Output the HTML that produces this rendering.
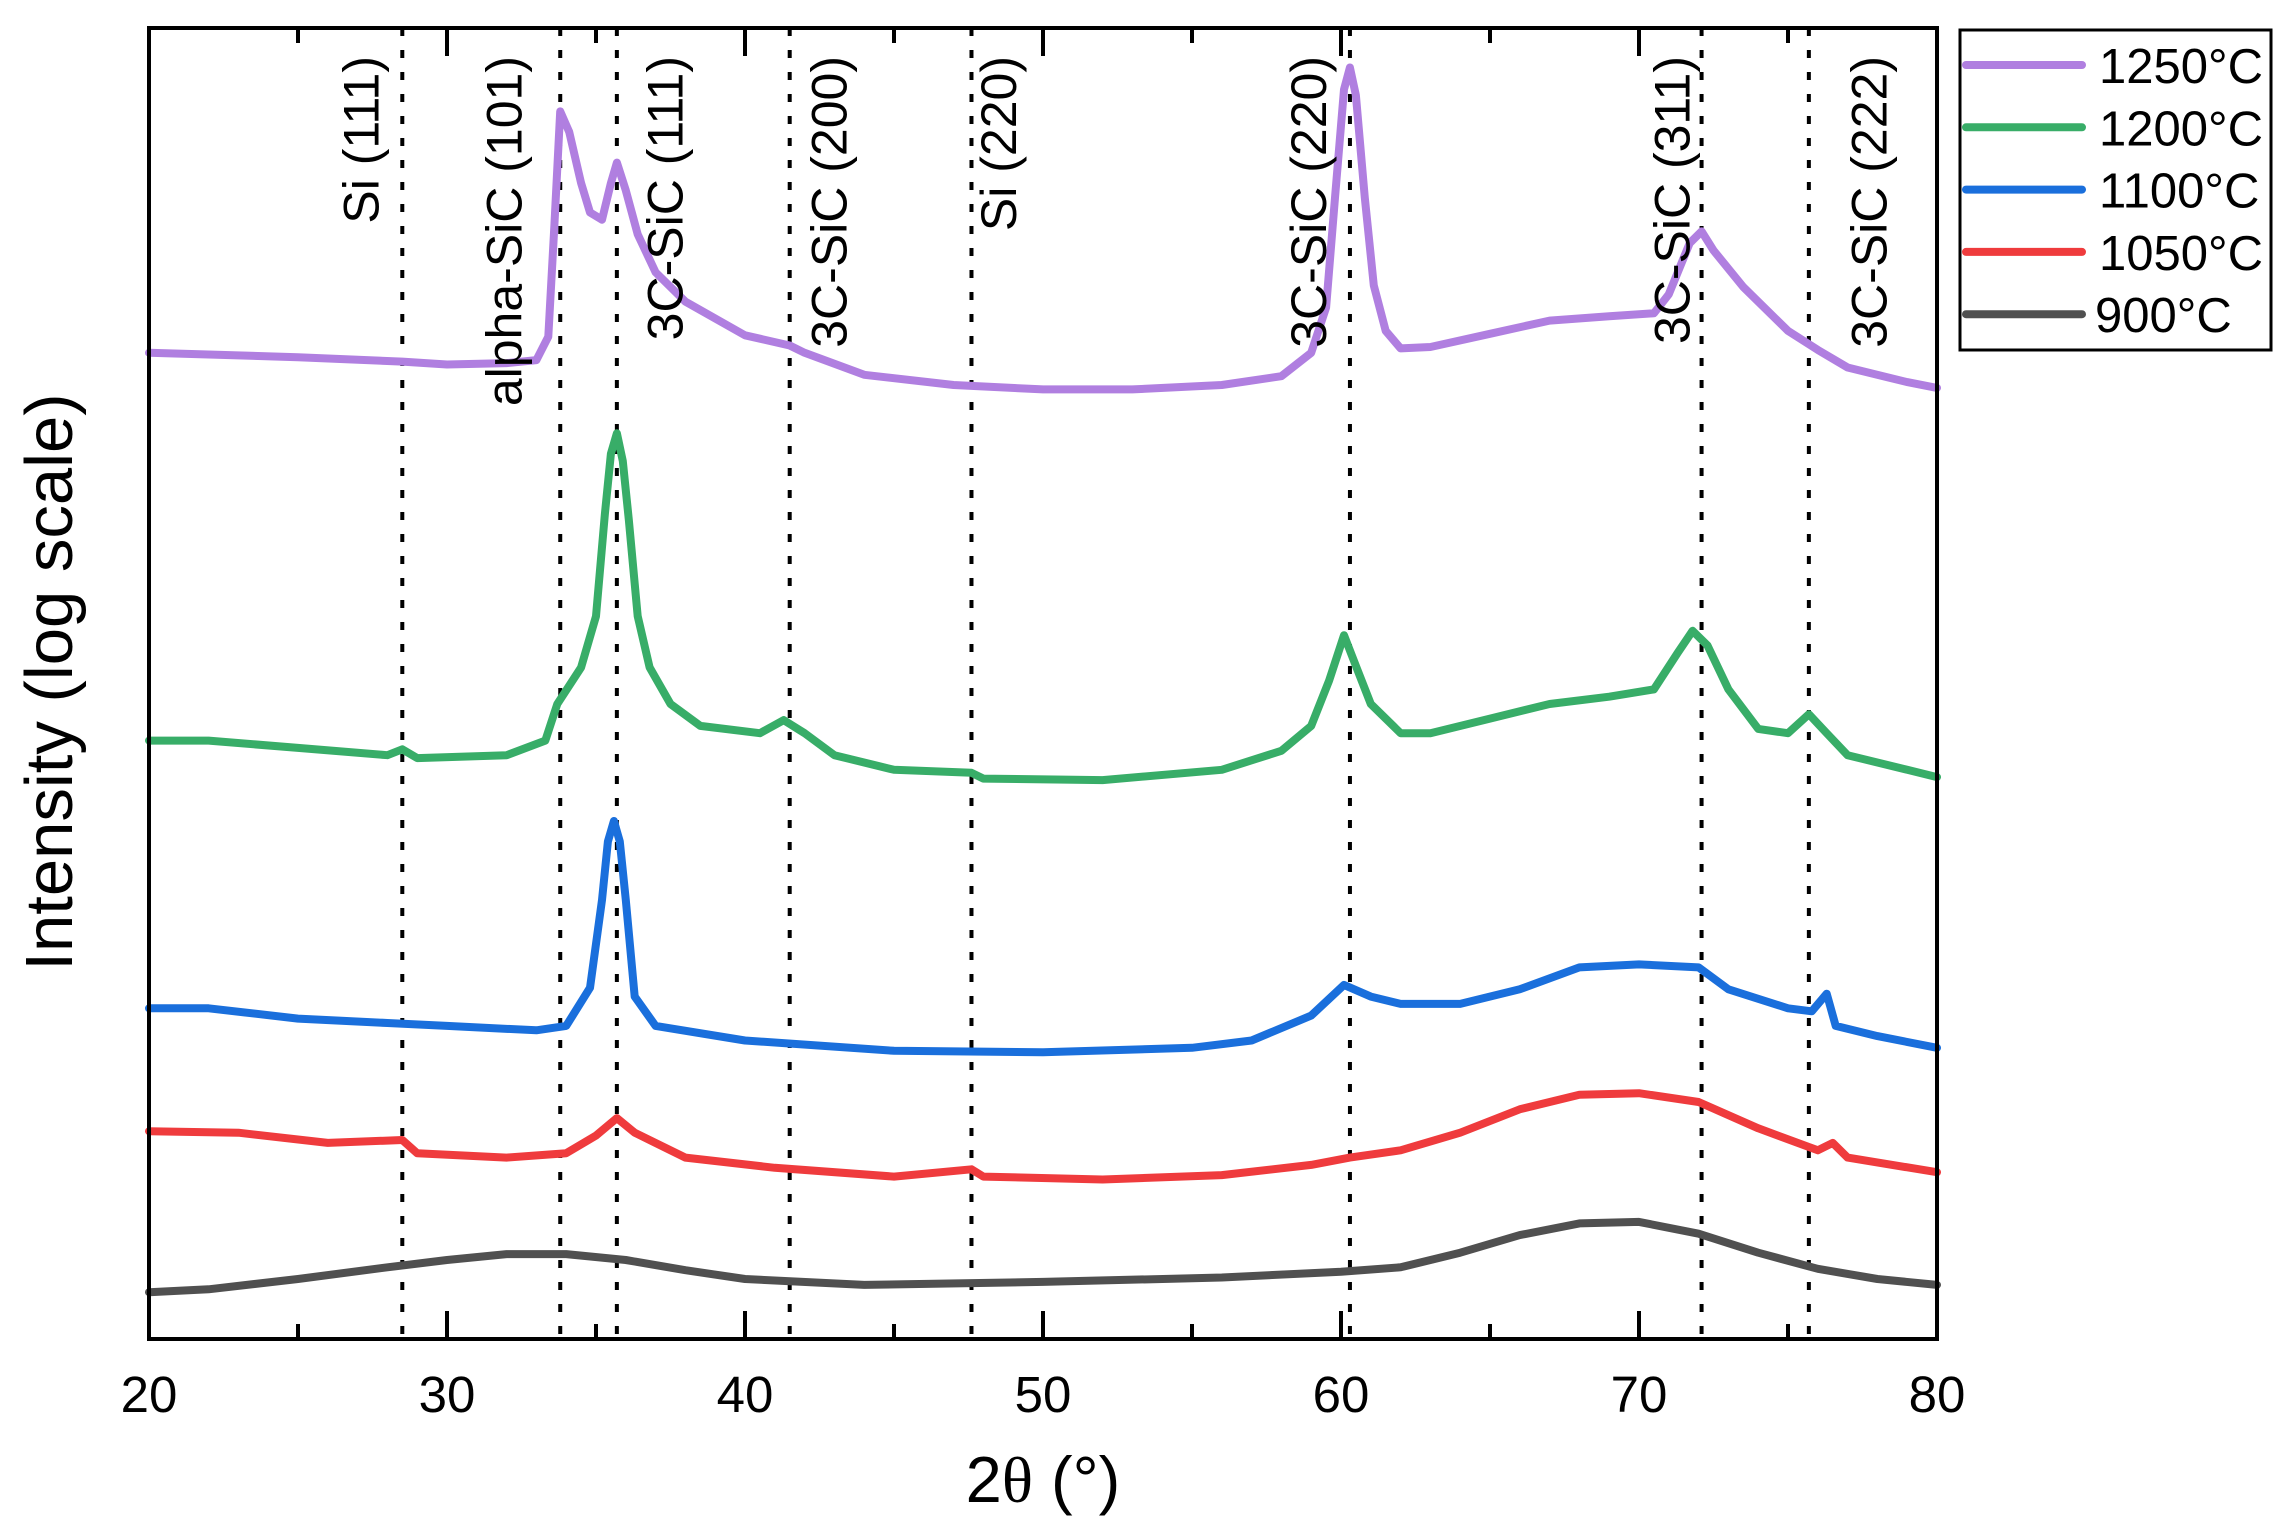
<!DOCTYPE html>
<html><head><meta charset="utf-8"><style>
html,body{margin:0;padding:0;background:#fff;}
svg{display:block;font-family:"Liberation Sans",Arial,sans-serif;}
</style></head><body>
<svg id="chart" width="2295" height="1538" viewBox="0 0 2295 1538" xmlns="http://www.w3.org/2000/svg">
<g id="grid-lines"></g>
<g id="series"></g>
<g id="labels"></g>
<rect x="149" y="28" width="1788" height="1311" fill="none" stroke="#000" stroke-width="4"/>
<g id="ticks"></g>
<text x="1043" y="1502" font-size="65" text-anchor="middle">2<tspan font-family="'Liberation Serif',serif">θ</tspan> (°)</text>
<text transform="translate(72,682) rotate(-90)" font-size="67" text-anchor="middle">Intensity (log scale)</text>
<g id="legend">
<rect x="1960" y="30" width="311" height="320" fill="#fff" stroke="#000" stroke-width="3"/>
</g>
</svg>
<script>
const xTicks=[20,30,40,50,60,70,80];
const xMinor=[25,35,45,55,65,75];
const refLines=[28.5,33.8,35.7,41.5,47.6,60.3,72.1,75.7];
const peakNames=["Si (111)","alpha-SiC (101)","3C-SiC (111)","3C-SiC (200)","Si (220)","3C-SiC (220)","3C-SiC (311)","3C-SiC (222)"];
const peakLabelX=[27.7,32.5,37.9,43.4,49.1,59.5,71.7,78.3];
const seriesNames=["1250°C","1200°C","1100°C","1050°C","900°C"];
const seriesColors=["#b07fe0","#38ad68","#1a6fdc","#ef3b3d","#505050"];
const x1250=[20,25,28.5,30,32,33,33.4,33.6,33.8,34.1,34.5,34.8,35.2,35.5,35.7,36.0,36.4,37,38,40,41.5,42,44,47,50,53,56,58,59,59.5,59.8,60.1,60.3,60.5,60.8,61.1,61.5,62,63,65,67,69,70.5,71,71.7,72.1,72.5,73.5,75,76,77,79,80];
const y1250=[674,671,668,666,667,669,685,760,839,825,790,770,765,790,804,785,755,729,709,686,679,674,659,652,649,649,652,658,674,705,780,854,869,850,780,720,689,677,678,687,696,699,701,714,749,757,744,719,689,676,664,654,650];
const x1200=[20,22,25,28,28.5,29,32,33.3,33.7,34.5,35,35.3,35.5,35.7,35.9,36.1,36.4,36.8,37.5,38.5,40.5,41.3,42,43,45,47.6,48,52,56,58,59,59.6,60.1,60.5,61,62,63,65,67,69,70.5,71.3,71.8,72.3,73,74,75,75.7,76.3,77,79,80];
const y1200=[409,409,404,399,403,397,399,409,434,459,494,564,605,619,600,560,494,459,434,419,414,423,414,399,389,387,383,382,389,402,419,450,481,460,434,414,414,424,434,439,444,469,484,474,444,417,414,427,414,399,389,384];
const x1100=[20,22,25,28,30,33,34,34.8,35.2,35.4,35.6,35.8,36,36.3,37,40,45,50,55,57,59,60.1,61,62,64,66,68,70,72,73,75,75.8,76.3,76.6,78,80];
const y1100=[226,226,219,216,214,211,214,240,300,340,354,340,300,234,214,204,197,196,199,204,221,242,234,229,229,239,254,256,254,239,226,224,236,214,207,199];
const x1050=[20,23,26,28.5,29,32,34,35,35.7,36.3,38,41,45,47.6,48,52,56,59,60.3,62,64,66,68,70,72,74,76,76.5,77,80];
const y1050=[142,141,134,136,127,124,127,139,151,141,124,117,111,116,111,109,112,119,124,129,141,157,167,168,162,144,129,134,124,114];
const x900=[20,22,25,28,30,32,34,36,38,40,44,50,56,60,62,64,66,68,70,72,74,76,78,80];
const y900=[32,34,41,49,54,58,58,54,47,41,37,39,42,46,49,59,71,79,80,72,59,48,41,37];

const NS="http://www.w3.org/2000/svg";
const X0=149,X1=1937,Y0=1339,Y1=28;
function xs(v){return X0+(v-20)/(80-20)*(X1-X0);}
function ys(v){return Y0-v*(Y0-Y1)/896;}
function mk(tag,attrs,parent){const e=document.createElementNS(NS,tag);for(const k in attrs)e.setAttribute(k,attrs[k]);parent.appendChild(e);return e;}

const grid=document.getElementById('grid-lines');
refLines.forEach(v=>{
  const l=mk('line',{x1:xs(v),x2:xs(v),y1:Y1,y2:Y0,stroke:'#000','stroke-width':4,'stroke-dasharray':'8 14'},grid);
  
  
});
const ticks=document.getElementById('ticks');
xTicks.forEach(v=>{
  const t=mk('line',{x1:xs(v),x2:xs(v),y1:Y0,y2:Y0-28,stroke:'#000','stroke-width':4},ticks);
  
  
  const t2=mk('line',{x1:xs(v),x2:xs(v),y1:Y1,y2:Y1+28,stroke:'#000','stroke-width':4},ticks);
  
  
  const tx=mk('text',{x:xs(v),y:1412,'font-size':51,'text-anchor':'middle'},ticks);
  tx.textContent=v;
  
  
});
xMinor.forEach(v=>{
  const t=mk('line',{x1:xs(v),x2:xs(v),y1:Y0,y2:Y0-15,stroke:'#000','stroke-width':4},ticks);
  
  
  const t2=mk('line',{x1:xs(v),x2:xs(v),y1:Y1,y2:Y1+15,stroke:'#000','stroke-width':4},ticks);
  
  
});
const labels=document.getElementById('labels');
peakNames.forEach((n,i)=>{
  const px=xs(peakLabelX[i]);
  const t=mk('text',{transform:`translate(${px},56) rotate(-90)`,'font-size':50,'text-anchor':'end'},labels);
  t.textContent=n;
  
  
});
const sg=document.getElementById('series');
const allX=[x1250,x1200,x1100,x1050,x900];
const allY=[y1250,y1200,y1100,y1050,y900];
for(let s=4;s>=0;s--){
  const pts=allX[s].map((x,i)=>xs(x).toFixed(1)+','+ys(allY[s][i]).toFixed(1)).join(' ');
  const p=mk('polyline',{points:pts,fill:'none',stroke:seriesColors[s],'stroke-width':8,'stroke-linejoin':'round','stroke-linecap':'round'},sg);
  
  
}
const lg=document.getElementById('legend');
seriesNames.forEach((n,i)=>{
  const y=65+i*62.3;
  const l=mk('line',{x1:1966,x2:2082,y1:y,y2:y,stroke:seriesColors[i],'stroke-width':8,'stroke-linecap':'round'},lg);
  
  
  const t=mk('text',{x:i===4?2095:2099,y:y+18,'font-size':49},lg);
  t.textContent=n;
  
  
});
</script>
</body></html>
